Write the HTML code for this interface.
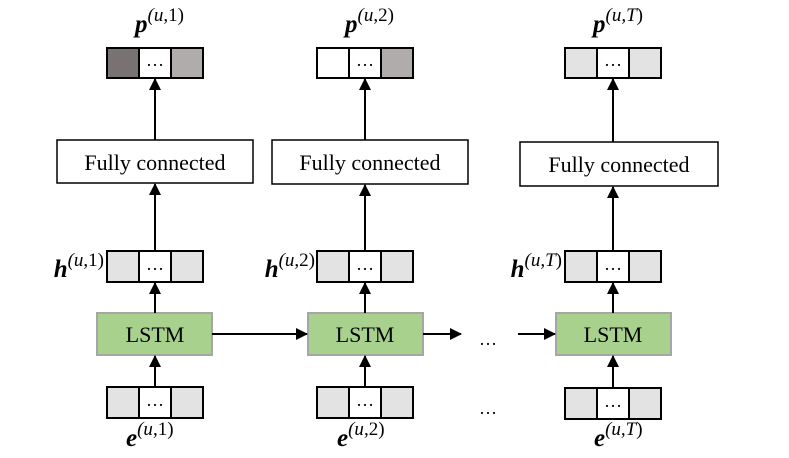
<!DOCTYPE html>
<html><head><style>body{margin:0;background:#fff}svg{display:block}
text{font-family:"Liberation Serif",serif;fill:#000}</style></head><body>
<svg width="789" height="458" viewBox="0 0 789 458" xmlns="http://www.w3.org/2000/svg">
<defs><marker id="a" markerWidth="12" markerHeight="12" refX="11" refY="6" orient="auto" markerUnits="userSpaceOnUse"><path d="M0,0L12,6L0,12z" fill="#000"/></marker></defs>
<g stroke="#000" stroke-width="2">
<rect x="107" y="48" width="32" height="30" fill="#787372"/><rect x="139" y="48" width="32" height="30" fill="#fff"/><rect x="171" y="48" width="32" height="30" fill="#b0acab"/>
<rect x="57" y="140" width="196" height="43" fill="#fff" stroke-width="1.5"/>
<rect x="107" y="251" width="32" height="31" fill="#e3e3e3"/><rect x="139" y="251" width="32" height="31" fill="#fff"/><rect x="171" y="251" width="32" height="31" fill="#e3e3e3"/>
<rect x="107" y="387" width="32" height="31" fill="#e3e3e3"/><rect x="139" y="387" width="32" height="31" fill="#fff"/><rect x="171" y="387" width="32" height="31" fill="#e3e3e3"/>
<rect x="317" y="48" width="32" height="30" fill="#fff"/><rect x="349" y="48" width="32" height="30" fill="#fff"/><rect x="381" y="48" width="32" height="30" fill="#b0acab"/>
<rect x="272" y="140" width="196" height="44" fill="#fff" stroke-width="1.5"/>
<rect x="317" y="251" width="32" height="31" fill="#e3e3e3"/><rect x="349" y="251" width="32" height="31" fill="#fff"/><rect x="381" y="251" width="32" height="31" fill="#e3e3e3"/>
<rect x="317" y="387" width="32" height="31" fill="#e3e3e3"/><rect x="349" y="387" width="32" height="31" fill="#fff"/><rect x="381" y="387" width="32" height="31" fill="#e3e3e3"/>
<rect x="565" y="48" width="32" height="30" fill="#e3e3e3"/><rect x="597" y="48" width="32" height="30" fill="#fff"/><rect x="629" y="48" width="32" height="30" fill="#e3e3e3"/>
<rect x="520" y="142" width="198" height="44" fill="#fff" stroke-width="1.5"/>
<rect x="565" y="251" width="32" height="31" fill="#e3e3e3"/><rect x="597" y="251" width="32" height="31" fill="#fff"/><rect x="629" y="251" width="32" height="31" fill="#e3e3e3"/>
<rect x="565" y="388" width="32" height="31" fill="#e3e3e3"/><rect x="597" y="388" width="32" height="31" fill="#fff"/><rect x="629" y="388" width="32" height="31" fill="#e3e3e3"/>
</g>
<g fill="#a9d18e" stroke="#a6a6a6" stroke-width="2">
<rect x="97" y="313" width="115" height="42"/><rect x="308" y="313" width="115" height="42"/><rect x="556" y="313" width="115" height="42"/>
</g>
<g stroke="#000" stroke-width="2" marker-end="url(#a)">
<line x1="155" y1="140" x2="155" y2="79"/><line x1="155" y1="251" x2="155" y2="184"/><line x1="155" y1="313" x2="155" y2="283"/><line x1="155" y1="387" x2="155" y2="356"/>
<line x1="365" y1="140" x2="365" y2="79"/><line x1="365" y1="251" x2="365" y2="185"/><line x1="365" y1="313" x2="365" y2="283"/><line x1="365" y1="387" x2="365" y2="356"/>
<line x1="613" y1="142" x2="613" y2="79"/><line x1="613" y1="251" x2="613" y2="187"/><line x1="613" y1="313" x2="613" y2="283"/><line x1="613" y1="388" x2="613" y2="356"/>
<line x1="212" y1="334" x2="307" y2="334"/><line x1="423" y1="334" x2="461" y2="334"/><line x1="518" y1="334" x2="555" y2="334"/>
</g>
<g font-size="22" text-anchor="middle">
<text x="155" y="170">Fully connected</text><text x="370" y="170">Fully connected</text><text x="619" y="172">Fully connected</text>
<text x="155" y="342">LSTM</text><text x="365" y="342">LSTM</text><text x="613" y="342">LSTM</text>
</g>
<g font-size="18" text-anchor="middle">
<text x="155" y="66">…</text><text x="365" y="66">…</text><text x="613" y="66">…</text>
<text x="155" y="270">…</text><text x="365" y="270">…</text><text x="613" y="270">…</text>
<text x="155" y="406">…</text><text x="365" y="406">…</text><text x="613" y="407">…</text>
<text x="488" y="345">…</text><text x="488" y="414">…</text>
</g>
<g font-size="25" font-weight="bold" font-style="italic">
<text x="135" y="32">p<tspan font-size="19" font-weight="normal" dy="-11">(u<tspan font-style="normal">,1)</tspan></tspan></text>
<text x="345" y="32">p<tspan font-size="19" font-weight="normal" dy="-11">(u<tspan font-style="normal">,2)</tspan></tspan></text>
<text x="593" y="32">p<tspan font-size="19" font-weight="normal" dy="-11">(u,T<tspan font-style="normal">)</tspan></tspan></text>
<text x="104" y="277" text-anchor="end">h<tspan font-size="19" font-weight="normal" dy="-11">(u<tspan font-style="normal">,1)</tspan></tspan></text>
<text x="315" y="277" text-anchor="end">h<tspan font-size="19" font-weight="normal" dy="-11">(u<tspan font-style="normal">,2)</tspan></tspan></text>
<text x="562" y="277" text-anchor="end">h<tspan font-size="19" font-weight="normal" dy="-11">(u,T<tspan font-style="normal">)</tspan></tspan></text>
<text x="126" y="446">e<tspan font-size="19" font-weight="normal" dy="-11">(u<tspan font-style="normal">,1)</tspan></tspan></text>
<text x="337" y="446">e<tspan font-size="19" font-weight="normal" dy="-11">(u<tspan font-style="normal">,2)</tspan></tspan></text>
<text x="594" y="446">e<tspan font-size="19" font-weight="normal" dy="-11">(u,T<tspan font-style="normal">)</tspan></tspan></text>
</g>
</svg>
</body></html>
